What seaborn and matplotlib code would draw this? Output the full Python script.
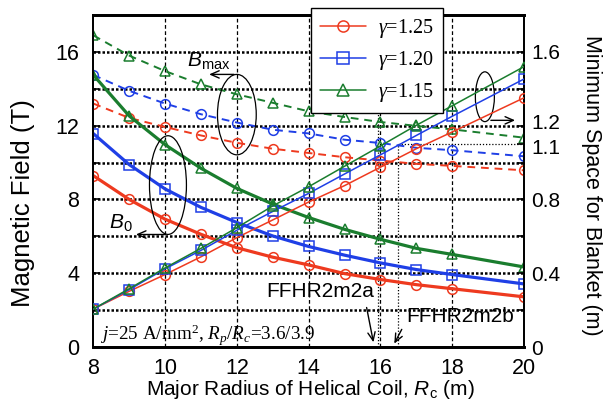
import numpy as np
import pandas as pd
import matplotlib
matplotlib.use("Agg")
import matplotlib.pyplot as plt
import seaborn as sns
from matplotlib.patches import Ellipse
from matplotlib.lines import Line2D
from matplotlib.transforms import ScaledTranslation

# Major radius of the helical coil (m)
radius = [8, 9, 10, 11, 12, 13, 14, 15, 16, 17, 18, 20]
gamma_labels = ["1.25", "1.20", "1.15"]

# Maximum field on the coil, B_max (T)
bmax_125 = [13.2, 12.42, 11.93, 11.47, 11.07, 10.75, 10.52, 10.29, 10.11, 9.93, 9.82, 9.58]
bmax_120 = [14.75, 13.89, 13.2, 12.62, 12.17, 11.78, 11.58, 11.24, 11.06, 10.8, 10.67, 10.34]
bmax_115 = [16.9, 15.8, 14.96, 14.24, 13.7, 13.24, 12.78, 12.47, 12.2, 11.99, 11.8, 11.35]

# Field on the magnetic axis, B_0 (T)
b0_125 = [9.29, 8.0, 6.93, 6.11, 5.38, 4.87, 4.45, 3.98, 3.66, 3.38, 3.16, 2.72]
b0_120 = [11.57, 9.89, 8.57, 7.57, 6.75, 6.02, 5.45, 4.98, 4.56, 4.2, 3.93, 3.42]
b0_115 = [14.75, 12.53, 10.97, 9.69, 8.6, 7.75, 7.02, 6.38, 5.84, 5.35, 5.02, 4.34]

# Minimum space for blanket (m)
blanket_125 = [0.206, 0.302, 0.393, 0.489, 0.593, 0.689, 0.786, 0.875, 0.975, 1.075, 1.166, 1.351]
blanket_120 = [0.206, 0.311, 0.424, 0.524, 0.633, 0.735, 0.833, 0.938, 1.042, 1.147, 1.251, 1.453]
blanket_115 = [0.206, 0.316, 0.429, 0.535, 0.647, 0.765, 0.869, 0.98, 1.09, 1.202, 1.308, 1.52]

# Design points
ffhr_a_radius = 15.93
ffhr_b_radius = 16.5
ffhr_b_space = 1.1

RED, BLUE, GREEN = "#ee3a1f", "#1f3fe6", "#1a7d2e"

sns.set_theme(style="white", rc={
    "axes.edgecolor": "black", "text.color": "black",
    "xtick.color": "black", "ytick.color": "black",
    "axes.labelcolor": "black",
})
plt.rcParams["font.family"] = ["Liberation Sans", "DejaVu Sans"]
plt.rcParams.update({
    "mathtext.fontset": "custom",
    "mathtext.rm": "Liberation Serif",
    "mathtext.it": "Liberation Serif:italic",
    "mathtext.sf": "Liberation Sans",
    "mathtext.cal": "Liberation Sans:italic",
})

fig = plt.figure(figsize=(6.13, 4.07), dpi=100)
ax = fig.add_axes([0.1522, 0.1474, 0.7026, 0.8157])
ax2 = ax.twinx()
ax2.patch.set_visible(False)

ax.set_xlim(8, 20)
ax.set_ylim(0, 18)
ax2.set_ylim(0, 1.8)

# Reference grid
for yv in range(2, 18, 2):
    ax.axhline(yv, color="black", lw=1.8, ls=(0, (1, 0.8)), zorder=1)
for xv in range(10, 20, 2):
    ax.axvline(xv, color="black", lw=0.9, ls=(0, (3, 2)), zorder=1)

# Design-point guides
guide = dict(color="black", lw=0.9, ls=(0, (1, 1.5)), zorder=1)
ax.axvline(ffhr_a_radius, **guide)
ax.plot([ffhr_b_radius, ffhr_b_radius], [0, ffhr_b_space * 10], **guide)
ax.plot([ffhr_b_radius, 20], [ffhr_b_space * 10, ffhr_b_space * 10], **guide)

def draw(axis, values, color, marker, lw, ls):
    df = pd.DataFrame({"R": radius, "v": values})
    sns.lineplot(data=df, x="R", y="v", ax=axis, color=color, lw=lw, ls=ls,
                 marker=marker, markersize=7, markerfacecolor="none",
                 markeredgecolor=color, markeredgewidth=1.1, legend=False,
                 zorder=3)

dash = (0, (4, 3))
draw(ax, bmax_125, RED, "o", 1.4, dash)
draw(ax, bmax_120, BLUE, "o", 1.4, dash)
draw(ax, bmax_115, GREEN, "^", 1.4, dash)
draw(ax, b0_125, RED, "o", 2.3, "-")
draw(ax, b0_120, BLUE, "s", 2.3, "-")
draw(ax, b0_115, GREEN, "^", 2.3, "-")
draw(ax2, blanket_125, RED, "o", 1.1, "-")
draw(ax2, blanket_120, BLUE, "s", 1.1, "-")
draw(ax2, blanket_115, GREEN, "^", 1.1, "-")

# Group markers
arrow = dict(arrowstyle="->,head_length=0.5,head_width=0.22", lw=1.0, color="black")
ax.add_patch(Ellipse((12.0, 12.6), 1.08, 4.36, fill=False, ec="black", lw=0.9, zorder=4))
ax.annotate("", xy=(11.15, 14.78), xytext=(12.0, 14.78), arrowprops=arrow)
ax.text(11.21, 15.55, r"$\mathcal{B}_{\mathsf{max}}$", fontsize=15, ha="center", va="center")

ax.add_patch(Ellipse((10.08, 8.78), 1.03, 5.35, fill=False, ec="black", lw=0.9, zorder=4))
ax.annotate("", xy=(9.11, 6.1), xytext=(10.08, 6.1), arrowprops=arrow)
ax.text(8.77, 6.76, r"$\mathcal{B}_{\mathsf{0}}$", fontsize=15, ha="center", va="center")

ax.add_patch(Ellipse((18.91, 13.57), 0.53, 2.7, fill=False, ec="black", lw=0.9, zorder=4))
ax.annotate("", xy=(19.83, 12.29), xytext=(19.0, 12.29), arrowprops=arrow)

ax.text(14.33, 3.0, "FFHR2m2a", fontsize=15, ha="center", va="center")
ax.annotate("", xy=(15.82, 0.11), xytext=(15.6, 2.29), arrowprops=arrow)
ax.text(18.22, 1.64, "FFHR2m2b", fontsize=15, ha="center", va="center")
ax.annotate("", xy=(16.35, 0.05), xytext=(16.63, 1.09), arrowprops=arrow)

ax.text(8.19, 0.35, r"$j$=25 A/mm$^2$, $R_p$/$R_c$=3.6/3.9",
        family="Liberation Serif", fontsize=13.8, ha="left", va="baseline")

# Axes, ticks and spines
ax.set_xticks(range(8, 21, 2))
ax.set_yticks([0, 4, 8, 12, 16])
ax.set_yticks([2, 6, 10, 14], minor=True)
ax.tick_params(axis="both", which="major", direction="in", length=5, width=1.2,
               labelsize=15.5)
ax.tick_params(axis="y", which="minor", direction="in", length=4, width=1.2)
ax.tick_params(axis="y", pad=10)
ax.tick_params(axis="x", pad=8)
ax.set_xlabel("")
ax.set_ylabel("")
ax2.set_ylabel("")

r_ticks = [0, 0.2, 0.4, 0.6, 0.8, 1.0, 1.1, 1.2, 1.4, 1.6, 1.8]
r_labels = ["0", "", "0.4", "", "0.8", "", "1.1", "1.2", "", "1.6", ""]
ax2.set_yticks(r_ticks)
ax2.set_yticklabels(r_labels)
ax2.tick_params(axis="y", direction="in", length=5, width=1.2, labelsize=15, pad=5)
# keep the two close labels (1.1 and 1.2) slightly apart
for lab in ax2.get_yticklabels():
    if lab.get_text() == "1.2":
        lab.set_transform(lab.get_transform() + ScaledTranslation(0, 3 / 72, fig.dpi_scale_trans))
    elif lab.get_text() == "1.1":
        lab.set_transform(lab.get_transform() + ScaledTranslation(0, -1.5 / 72, fig.dpi_scale_trans))

for s in ("left", "right"):
    ax.spines[s].set_linewidth(1.3)
    ax2.spines[s].set_linewidth(1.3)
for s in ("top", "bottom"):
    ax.spines[s].set_linewidth(2.0)
    ax2.spines[s].set_linewidth(2.0)

fig.text(0.506, 0.042, r"Major Radius of Helical Coil, $\mathcal{R}_{\mathsf{c}}$ (m)",
         fontsize=15, ha="center", va="center")
fig.text(0.038, 0.50, "Magnetic Field (T)", fontsize=18.5, rotation=90,
         ha="center", va="center")
fig.text(0.965, 0.545, "Minimum Space for Blanket (m)", fontsize=15.5, rotation=-90,
         ha="center", va="center")

# Legend
handles = [Line2D([], [], color=c, marker=m, markersize=8, markerfacecolor="none",
                  markeredgecolor=c, markeredgewidth=1.1, lw=1.1)
           for c, m in ((RED, "o"), (BLUE, "s"), (GREEN, "^"))]
labels = [r"$\gamma$=" + g for g in gamma_labels]
leg = fig.legend(handles, labels, loc="upper left",
                 bbox_to_anchor=(311 / 613, 1 - 8 / 407),
                 prop={"family": "Liberation Serif", "size": 14.5},
                 frameon=True, fancybox=False, framealpha=1, edgecolor="black",
                 handlelength=2.3, handletextpad=0.6, labelspacing=0.45,
                 borderpad=0.45, borderaxespad=0)
leg.get_frame().set_linewidth(1.0)
leg.set_zorder(10)

fig.savefig("out.png", dpi=100)
